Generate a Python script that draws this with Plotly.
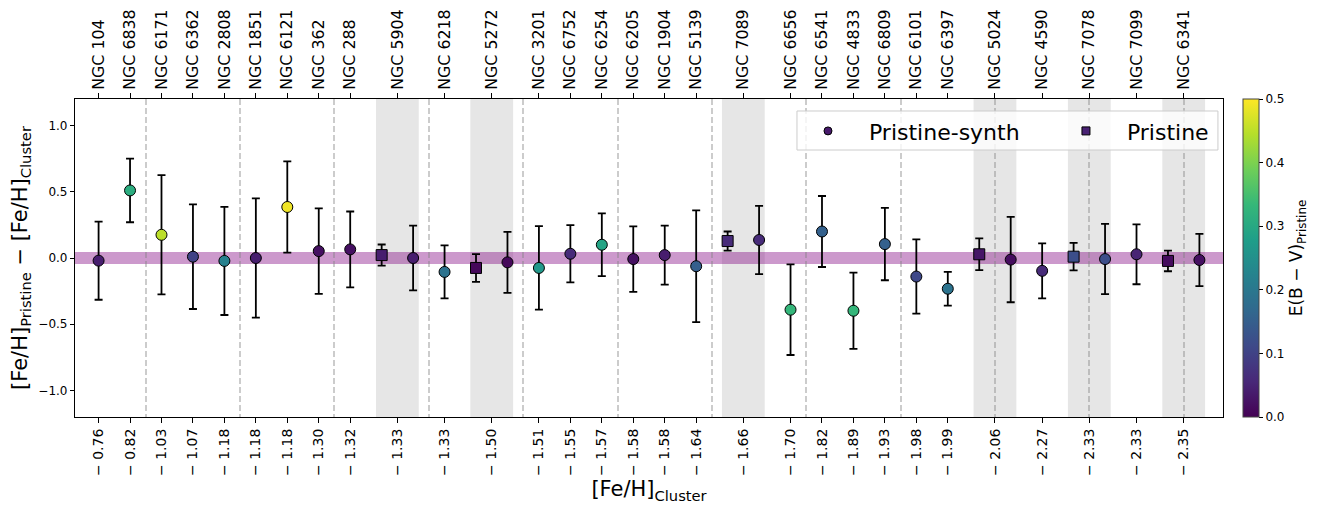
import plotly.graph_objects as go

# ---------------- data ----------------
clusters = ["NGC 104", "NGC 6838", "NGC 6171", "NGC 6362", "NGC 2808", "NGC 1851",
            "NGC 6121", "NGC 362", "NGC 288", "NGC 5904", "NGC 6218", "NGC 5272",
            "NGC 3201", "NGC 6752", "NGC 6254", "NGC 6205", "NGC 1904", "NGC 5139",
            "NGC 7089", "NGC 6656", "NGC 6541", "NGC 4833", "NGC 6809", "NGC 6101",
            "NGC 6397", "NGC 5024", "NGC 4590", "NGC 7078", "NGC 7099", "NGC 6341"]
feh_cluster = [-0.76, -0.82, -1.03, -1.07, -1.18, -1.18, -1.18, -1.30, -1.32, -1.33,
               -1.33, -1.50, -1.51, -1.55, -1.57, -1.58, -1.58, -1.64, -1.66, -1.70,
               -1.82, -1.89, -1.93, -1.98, -1.99, -2.06, -2.27, -2.33, -2.33, -2.35]
# Pristine-synth (circles)
synth_delta = [-0.02, 0.51, 0.175, 0.01, -0.022, 0.0, 0.385, 0.052, 0.065, 0.0,
               -0.105, -0.033, -0.075, 0.032, 0.10, -0.008, 0.022, -0.062, 0.136, -0.39,
               0.20, -0.398, 0.105, -0.14, -0.232, -0.012, -0.097, -0.008, 0.028, -0.015]
synth_err = [0.295, 0.24, 0.45, 0.395, 0.408, 0.45, 0.345, 0.323, 0.286, 0.245,
             0.20, 0.23, 0.315, 0.216, 0.237, 0.247, 0.223, 0.422, 0.257, 0.342,
             0.268, 0.288, 0.273, 0.28, 0.128, 0.322, 0.208, 0.265, 0.226, 0.197]
synth_ebv = [0.04, 0.31, 0.45, 0.10, 0.22, 0.04, 0.49, 0.02, 0.02, 0.04,
             0.19, 0.01, 0.265, 0.06, 0.29, 0.02, 0.04, 0.15, 0.06, 0.33,
             0.155, 0.33, 0.155, 0.11, 0.19, 0.015, 0.06, 0.12, 0.05, 0.02]
# Pristine (squares); None where not available
pristine_delta = [None, None, None, None, None, None, None, None, None, 0.022,
                  None, -0.075, None, None, None, None, None, None, 0.128, None,
                  None, None, None, None, None, 0.028, None, 0.01, None, -0.022]
pristine_err = [None, None, None, None, None, None, None, None, None, 0.08,
                None, 0.105, None, None, None, None, None, None, 0.072, None,
                None, None, None, None, None, 0.12, None, 0.104, None, 0.078]
pristine_ebv = [None, None, None, None, None, None, None, None, None, 0.04,
                None, 0.01, None, None, None, None, None, None, 0.06, None,
                None, None, None, None, None, 0.03, None, 0.12, None, 0.015]

# ---------------- positions ----------------
sq_x, sq_y, sq_e, sq_c = [], [], [], []
ci_x = []
label_x = []
pos = 0
for i in range(len(clusters)):
    if pristine_delta[i] is not None:
        sq_x.append(pos)
        sq_y.append(pristine_delta[i])
        sq_e.append(pristine_err[i])
        sq_c.append(pristine_ebv[i])
        ci_x.append(pos + 1)
        label_x.append(pos + 0.5)
        pos += 2
    else:
        ci_x.append(pos)
        label_x.append(pos)
        pos += 1
xrange = [-0.75, pos - 1 + 0.75]
bottom_text = ["\u2212 %.2f" % abs(v) for v in feh_cluster]

FONT = "DejaVu Sans"
NB = "\u00a0"
cmin, cmax = 0.0, 0.5

fig = go.Figure()

# circles
fig.add_trace(go.Scatter(
    x=ci_x, y=synth_delta, mode="markers", showlegend=False,
    error_y=dict(type="data", array=synth_err, color="black", thickness=1.8, width=4),
    marker=dict(symbol="circle", size=11, color=synth_ebv, colorscale="Viridis",
                cmin=cmin, cmax=cmax, line=dict(color="black", width=1),
                colorbar=dict(x=1.0174, xanchor="left", xpad=0, y=0.5, yanchor="middle",
                              ypad=0, len=1, lenmode="fraction", thickness=16,
                              outlinecolor="#444", outlinewidth=1,
                              ticks="outside", ticklen=4, tickcolor="black",
                              tickvals=[0, 0.1, 0.2, 0.3, 0.4, 0.5], tickformat=".1f",
                              tickfont=dict(size=12, family=FONT, color="black"),
                              title=dict(text="E(B \u2212 V)<sub>Pristine</sub>", side="right",
                                         font=dict(size=17, family=FONT, color="black")))),
))
# squares
fig.add_trace(go.Scatter(
    x=sq_x, y=sq_y, mode="markers", showlegend=False,
    error_y=dict(type="data", array=sq_e, color="black", thickness=1.8, width=4),
    marker=dict(symbol="square", size=11, color=sq_c, colorscale="Viridis",
                cmin=cmin, cmax=cmax, line=dict(color="black", width=1)),
))
# legend entries (two single-entry legends inside one drawn frame)
fig.add_trace(go.Scatter(x=[None], y=[None], mode="markers", legend="legend",
                         name=NB * 3 + "Pristine-synth",
                         marker=dict(symbol="circle", size=8, color="#481a6c",
                                     line=dict(color="black", width=1))))
fig.add_trace(go.Scatter(x=[None], y=[None], mode="markers", legend="legend2",
                         name=NB * 3 + "Pristine",
                         marker=dict(symbol="square", size=8, color="#482173",
                                     line=dict(color="black", width=1))))
# top-axis anchor trace
fig.add_trace(go.Scatter(x=label_x, y=[None] * len(label_x), xaxis="x2", mode="markers",
                         showlegend=False, hoverinfo="skip"))

# shaded bands for clusters with both measurements
for i in range(len(clusters)):
    if pristine_delta[i] is not None:
        fig.add_shape(type="rect", xref="x", yref="paper", x0=label_x[i] - 0.68,
                      x1=label_x[i] + 0.68, y0=0, y1=1, fillcolor="rgba(128,128,128,0.2)",
                      line=dict(width=0), layer="below")
# zero band
fig.add_shape(type="rect", xref="paper", yref="y", x0=0, x1=1, y0=-0.045, y1=0.045,
              fillcolor="rgba(128,0,128,0.4)", line=dict(width=0), layer="between")
# legend frame
fig.add_shape(type="rect", xref="paper", yref="paper", x0=0.6289, x1=0.9956,
              y0=0.8396, y1=0.9623, fillcolor="rgba(255,255,255,0.8)",
              line=dict(color="#cccccc", width=1), layer="above")

leg_common = dict(orientation="h", yanchor="middle", y=0.899, xanchor="left",
                  bgcolor="rgba(0,0,0,0)", borderwidth=0,
                  font=dict(size=22, family=FONT, color="black"))

# page body adds an 8px offset; compensate so the plot sits where the reference has it
fig.update_layout(
    width=1322, height=505,
    margin=dict(l=67, r=107, t=91, b=96, autoexpand=False),
    plot_bgcolor="white", paper_bgcolor="white",
    font=dict(family=FONT, color="black"),
    showlegend=True,
    legend=dict(x=0.6385, **leg_common),
    legend2=dict(x=0.8632, **leg_common),
    xaxis=dict(range=xrange, tickmode="array", tickvals=label_x, ticktext=bottom_text,
               tickangle=-90, ticks="outside", ticklen=5, tickwidth=1, tickcolor="black",
               showline=True, linecolor="black", linewidth=1.2, showgrid=False,
               zeroline=False, tickfont=dict(size=14, family=FONT), automargin=False,
               title=dict(text="[Fe/H]<sub>Cluster</sub>", font=dict(size=21, family=FONT),
                          standoff=6),
               minor=dict(tickmode="linear", tick0=1.5, dtick=3, showgrid=True,
                          gridcolor="rgba(128,128,128,0.4)", griddash="6px,3px",
                          gridwidth=1.5, ticks="")),
    xaxis2=dict(range=xrange, overlaying="x", side="top", anchor="y", tickmode="array",
                tickvals=label_x, ticktext=clusters, tickangle=-90, ticks="outside",
                ticklen=5, tickwidth=1, tickcolor="black", showline=True,
                linecolor="black", linewidth=1.2, showgrid=False, zeroline=False,
                automargin=False, tickfont=dict(size=15.8, family=FONT)),
    yaxis=dict(range=[-1.2, 1.2], tickmode="array", tickvals=[-1.0, -0.5, 0.0, 0.5, 1.0],
               tickformat=".1f", ticks="outside", ticklen=4, tickwidth=1, tickcolor="black",
               showline=True, linecolor="black", linewidth=1.2, mirror=True,
               showgrid=False, zeroline=False, tickfont=dict(size=12, family=FONT),
               automargin=False,
               title=dict(text="[Fe/H]<sub>Pristine</sub> \u2212 [Fe/H]<sub>Cluster</sub>",
                          font=dict(size=21, family=FONT), standoff=6)),
)

fig.write_html("out.html")
